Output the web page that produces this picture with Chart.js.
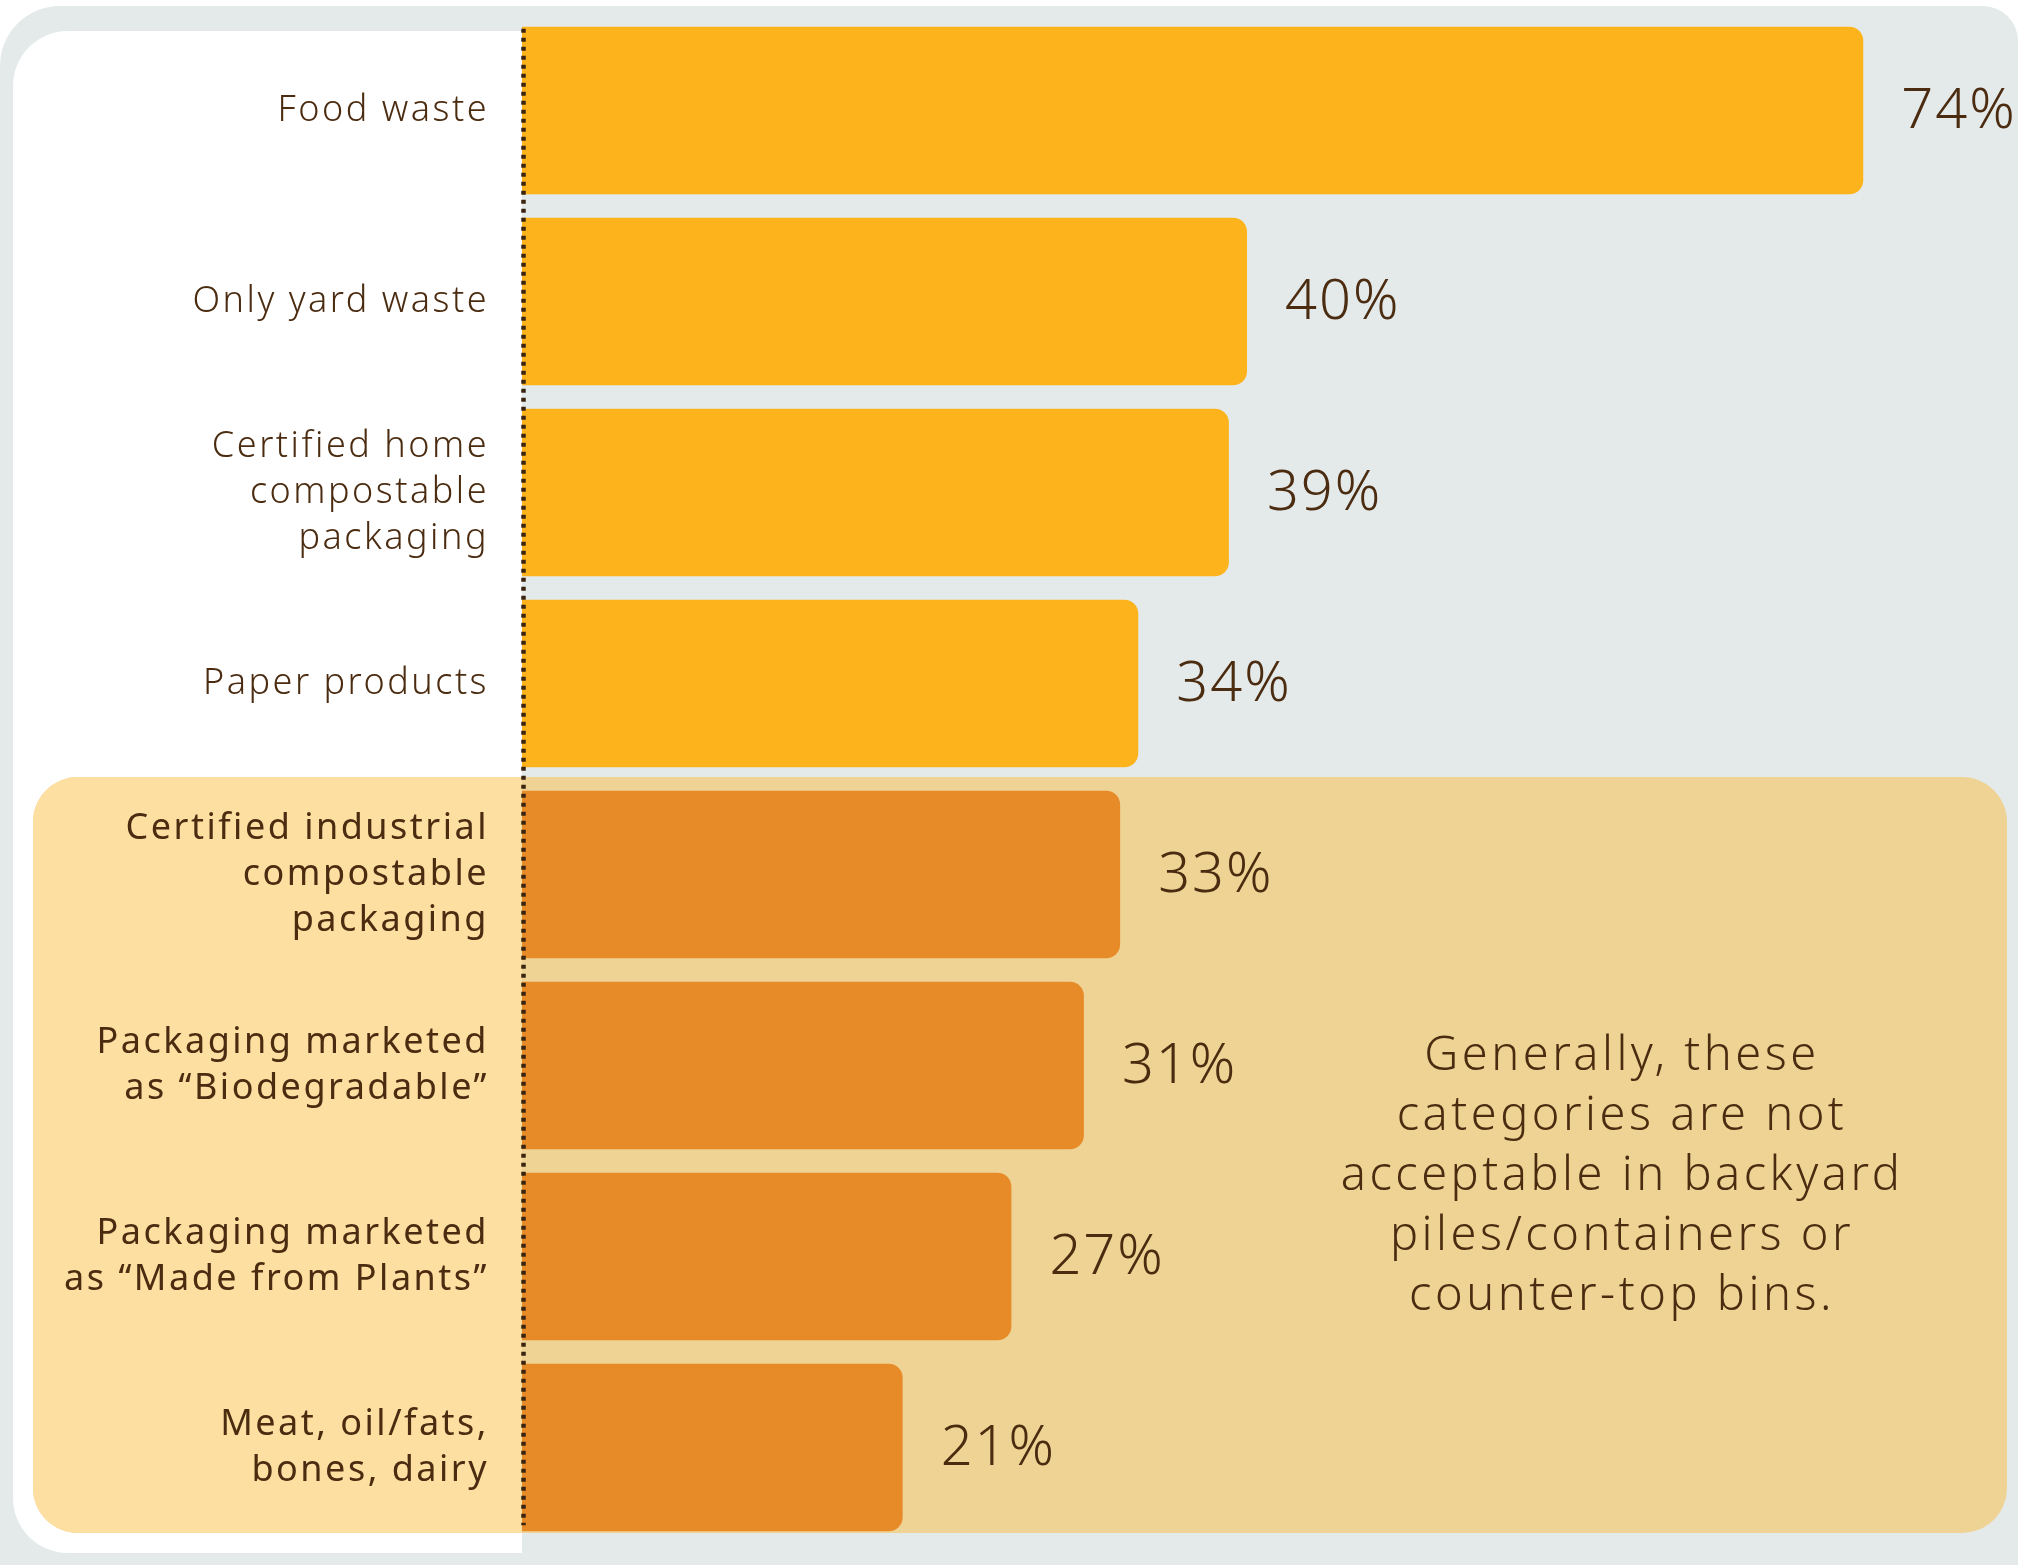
<!DOCTYPE html>
<html>
<head>
<meta charset="utf-8">
<script src="https://cdn.jsdelivr.net/npm/chart.js@4"></script>
<style>
  html, body { margin: 0; padding: 0; background: #ffffff; }
  #wrap { width: 2018px; height: 1565px; position: relative; }
</style>
</head>
<body>
<div id="wrap"><canvas id="compostChart"></canvas></div>
<script>
// --- Data ---
const categories = [
  ['Food waste'],
  ['Only yard waste'],
  ['Certified home', 'compostable', 'packaging'],
  ['Paper products'],
  ['Certified industrial', 'compostable', 'packaging'],
  ['Packaging marketed', 'as \u201cBiodegradable\u201d'],
  ['Packaging marketed', 'as \u201cMade from Plants\u201d'],
  ['Meat, oil/fats,', 'bones, dairy']
];
const percentValues = [74, 40, 39, 34, 33, 31, 27, 21];
const barColors = ['#FCB31C', '#FCB31C', '#FCB31C', '#FCB31C', '#E78A28', '#E78A28', '#E78A28', '#E78A28'];
const noteLines = [
  'Generally, these',
  'categories are not',
  'acceptable in backyard',
  'piles/containers or',
  'counter-top bins.'
];

const TEXT_COLOR = '#4B2C11';
const FONT = '"Noto Sans", "Open Sans", sans-serif';

// --- Backgrounds: grey frame, white label panel, beige highlight ---
const backgroundPlugin = {
  id: 'panels',
  beforeDraw(chart) {
    const ctx = chart.ctx;
    const W = chart.width, H = chart.height;
    const axisX = chart.scales.x.getPixelForValue(0);
    ctx.save();
    ctx.fillStyle = '#ffffff';
    ctx.fillRect(0, 0, W, H);

    ctx.fillStyle = '#E4EAEA';
    ctx.beginPath();
    ctx.roundRect(0, 6, W, H + 100, [60, 35, 0, 0]);
    ctx.fill();

    ctx.fillStyle = '#ffffff';
    ctx.beginPath();
    ctx.roundRect(13, 31, axisX - 13, 1553 - 31, [55, 0, 0, 55]);
    ctx.fill();

    // highlight box behind the last four categories
    const top = chart.scales.y.getPixelForValue(3.5) - 2;
    ctx.beginPath();
    ctx.roundRect(33, top, 2007 - 33, 1533 - top, 45);
    ctx.fillStyle = '#EFD394';
    ctx.fill();
    ctx.save();
    ctx.beginPath();
    ctx.rect(0, 0, axisX, H);
    ctx.clip();
    ctx.beginPath();
    ctx.roundRect(33, top, 2007 - 33, 1533 - top, 45);
    ctx.fillStyle = '#FDDFA2';
    ctx.fill();
    ctx.restore();
    ctx.restore();
    // wider tracking for the axis labels (Montserrat-like look)
    ctx.letterSpacing = '2.5px';
  },
  afterDraw(chart) {
    chart.ctx.letterSpacing = '0px';
  }
};

// --- Value labels, dotted axis and note text ---
const overlayPlugin = {
  id: 'overlay',
  afterDatasetsDraw(chart) {
    const ctx = chart.ctx;
    const meta = chart.getDatasetMeta(0);
    ctx.save();
    ctx.letterSpacing = '2px';
    ctx.font = '300 56px ' + FONT;
    ctx.fillStyle = TEXT_COLOR;
    ctx.textAlign = 'left';
    ctx.textBaseline = 'middle';
    meta.data.forEach((bar, i) => {
      ctx.fillText(percentValues[i] + '%', bar.x + 38, bar.y + 2);
    });

    // dotted baseline
    const x0 = chart.scales.x.getPixelForValue(0) + 1.5;
    const first = meta.data[0];
    const last = meta.data[meta.data.length - 1];
    ctx.strokeStyle = '#3A2410';
    ctx.lineWidth = 4.5;
    ctx.setLineDash([4, 5]);
    ctx.beginPath();
    ctx.moveTo(x0, first.y - first.height / 2 + 2);
    ctx.lineTo(x0, last.y + last.height / 2 - 6);
    ctx.stroke();
    ctx.setLineDash([]);

    // note in the highlight box
    ctx.letterSpacing = '3.5px';
    ctx.font = '300 47px ' + FONT;
    ctx.textAlign = 'center';
    noteLines.forEach((line, i) => {
      ctx.fillText(line, 1622, 1057 + i * 60);
    });
    ctx.restore();
  }
};

const chart = new Chart(document.getElementById('compostChart'), {
  type: 'bar',
  data: {
    labels: categories,
    datasets: [{
      data: percentValues,
      backgroundColor: barColors,
      borderRadius: 14,
      borderSkipped: 'start',
      barPercentage: 0.877,
      categoryPercentage: 1.0
    }]
  },
  options: {
    indexAxis: 'y',
    responsive: true,
    maintainAspectRatio: false,
    animation: false,
    layout: { padding: { top: 15, bottom: 22, left: 0, right: 46 } },
    plugins: {
      legend: { display: false },
      tooltip: { enabled: false }
    },
    scales: {
      x: {
        display: false,
        min: 0,
        max: 80
      },
      y: {
        afterFit(scale) {
          scale.width = 522;
          scale.paddingTop = 0;
          scale.paddingBottom = 0;
        },
        grid: { display: false, drawTicks: false },
        border: { display: false },
        ticks: {
          padding: 33,
          color: TEXT_COLOR,
          font: (c) => ({
            family: FONT,
            size: 36,
            weight: c.index < 4 ? '300' : '400',
            lineHeight: 46 / 36
          })
        }
      }
    }
  },
  plugins: [backgroundPlugin, overlayPlugin]
});
</script>
</body>
</html>
